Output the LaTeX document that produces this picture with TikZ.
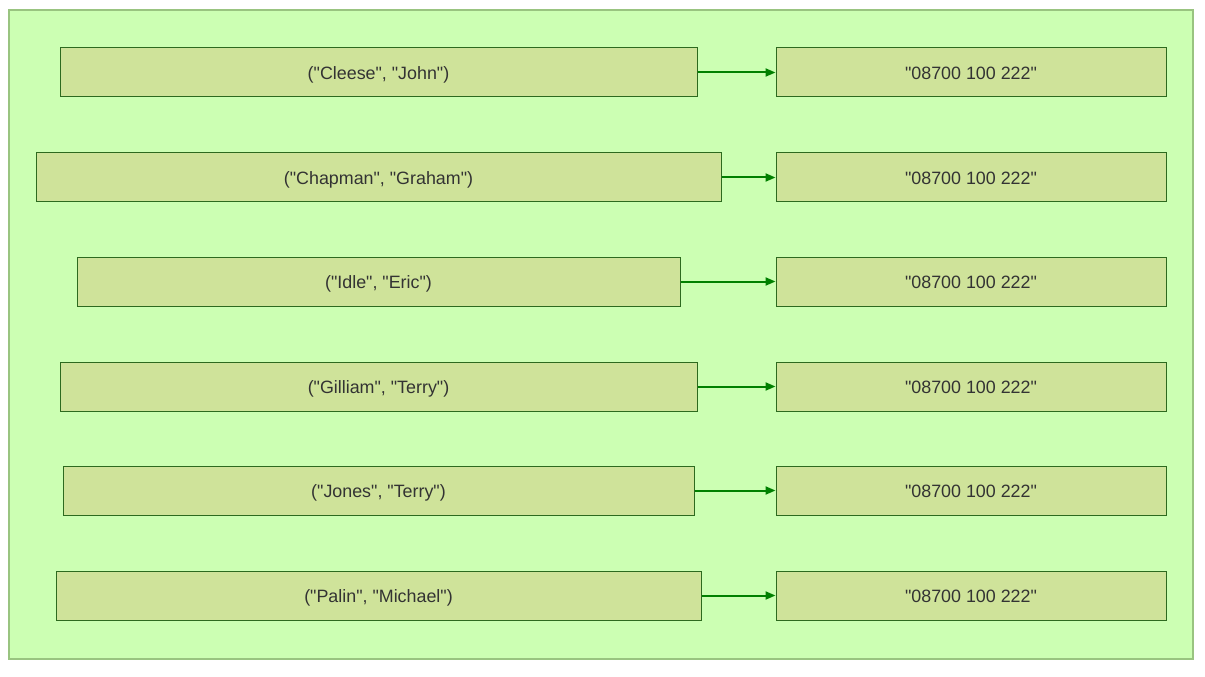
\documentclass[tikz,border=0pt]{standalone}
\usepackage{fontspec}
\setmainfont{Liberation Sans}[Ligatures=TeXOff]
\usetikzlibrary{arrows.meta}
\definecolor{bgfill}{HTML}{CCFFB3}
\definecolor{bgline}{HTML}{99C480}
\definecolor{boxfill}{HTML}{CFE39A}
\definecolor{boxline}{HTML}{2D6A1F}
\definecolor{arrowc}{HTML}{008000}
\definecolor{txt}{HTML}{333333}
\tikzset{
  keybox/.style={draw=boxline, fill=boxfill, line width=0.75pt, inner sep=0pt,
    minimum height=49*0.75pt, text height=11pt, text depth=0pt, text=txt,
    font=\fontsize{13.4pt}{15pt}\selectfont},
  conn/.style={draw=arrowc, line width=1.5pt, -{Triangle[length=7.5pt,width=6pt]}}
}
\begin{document}
\begin{tikzpicture}[x=0.75pt,y=-0.75pt]
\useasboundingbox (0,0) rectangle (1205,677);
\node[draw=bgline, fill=bgfill, line width=0.9pt, inner sep=0pt, minimum width=1184*0.75pt, minimum height=649*0.75pt] (bg) at (601,334.5) {};
\node[keybox, minimum width=637*0.75pt] (k1) at (378.5,72.5) {("Cleese", "John")};
\node[keybox, minimum width=685*0.75pt] (k2) at (378.5,177.5) {("Chapman", "Graham")};
\node[keybox, minimum width=603*0.75pt] (k3) at (378.5,281.5) {("Idle", "Eric")};
\node[keybox, minimum width=637*0.75pt] (k4) at (378.5,386.5) {("Gilliam", "Terry")};
\node[keybox, minimum width=631*0.75pt] (k5) at (378.5,490.5) {("Jones", "Terry")};
\node[keybox, minimum width=645*0.75pt] (k6) at (378.5,595.5) {("Palin", "Michael")};
\node[keybox, minimum width=390*0.75pt] (v1) at (971,72.5) {"08700 100 222"};
\node[keybox, minimum width=390*0.75pt] (v2) at (971,177.5) {"08700 100 222"};
\node[keybox, minimum width=390*0.75pt] (v3) at (971,281.5) {"08700 100 222"};
\node[keybox, minimum width=390*0.75pt] (v4) at (971,386.5) {"08700 100 222"};
\node[keybox, minimum width=390*0.75pt] (v5) at (971,490.5) {"08700 100 222"};
\node[keybox, minimum width=390*0.75pt] (v6) at (971,595.5) {"08700 100 222"};
\foreach \i in {1,...,6} {
  \draw[conn] (k\i) -- (v\i);
}
\end{tikzpicture}
\end{document}
